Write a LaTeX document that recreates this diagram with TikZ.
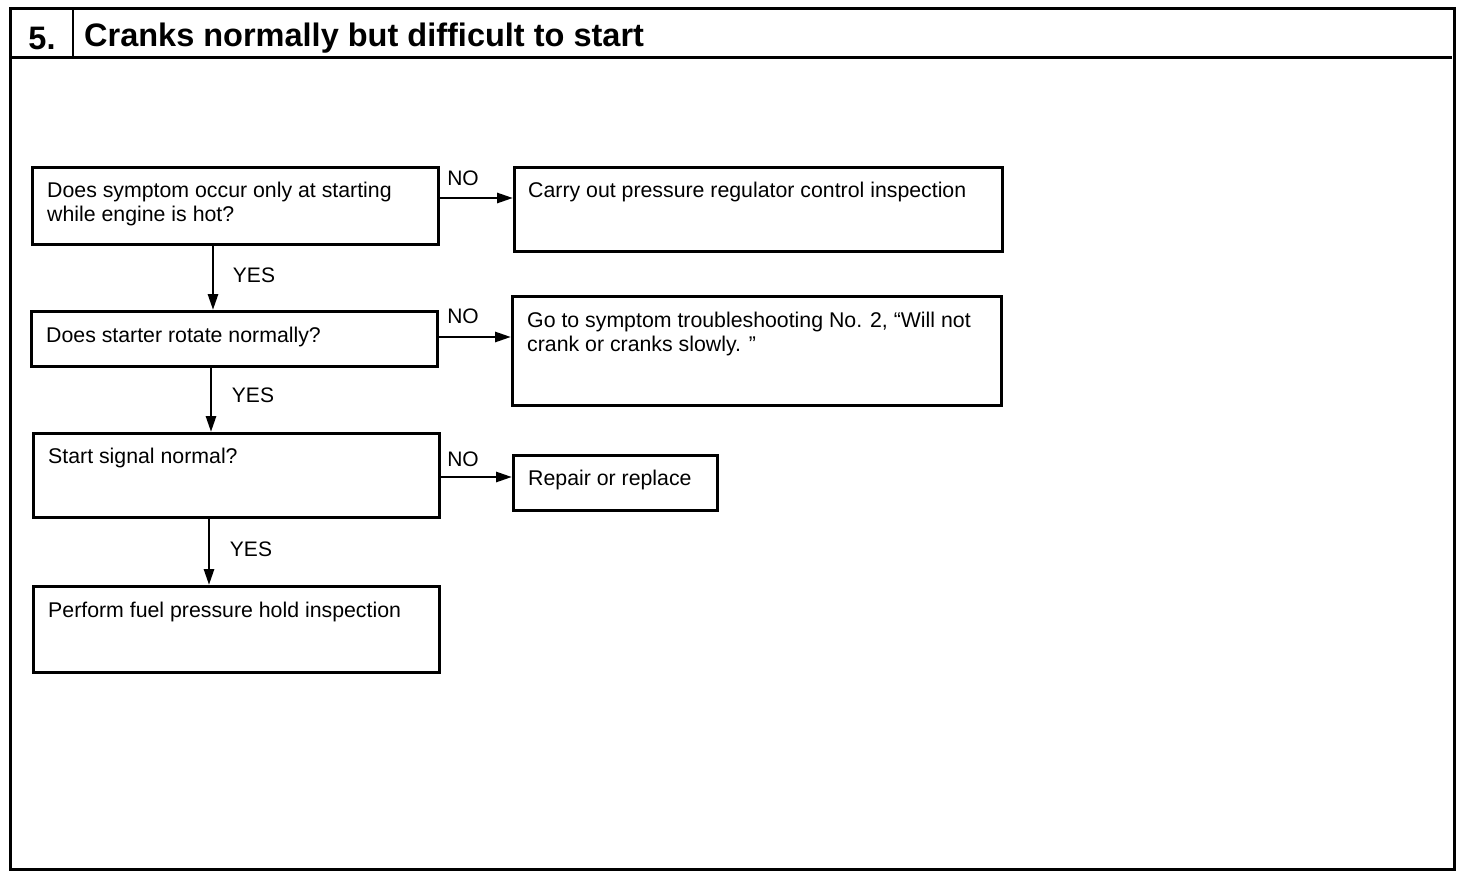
\documentclass[tikz,border=0pt]{standalone}
\usepackage{fontspec}
\setmainfont{Liberation Sans}
\usetikzlibrary{arrows.meta}
\begin{document}
\begin{tikzpicture}[x=1pt,y=-1pt,
  frame/.style={line width=3pt},
  box/.style={draw,line width=2.5pt,rectangle,inner sep=0pt,anchor=north west},
  txt/.style={font=\fontsize{21.3}{24}\selectfont,anchor=west,inner sep=0pt,align=left},
  lbl/.style={font=\fontsize{21}{24}\selectfont,inner sep=0pt},
  head/.style={font=\fontsize{32.5}{34}\selectfont\bfseries,inner sep=0pt},
  arr/.style={line width=2.8pt,-{Triangle[length=16pt,width=10pt]}}]
\useasboundingbox (0,0) rectangle (1472,878);
% frame
\node[box,draw=none,minimum width=1442pt,minimum height=859pt] (frame) at (10,8) {};
\draw[frame] (frame.north west) rectangle (frame.south east);
\coordinate (hl) at (10,57);
\coordinate (hr) at (1452,57);
\draw[frame] (hl) -- (hr);
\coordinate (st) at (73,8);
\coordinate (sb) at (73,57);
\draw[line width=2pt] (st) -- (sb);
\node[head] (num) at (42,38) {5.};
\node[head,anchor=west] (title) at (84,38) {Cranks normally but difficult to start};
% boxes
\node[box,minimum width=406pt,minimum height=77pt] (b1) at (31,166) {};
\node[txt] (t1) at (47,204) {Does symptom occur only at starting\\while engine is hot?};
\node[box,minimum width=488pt,minimum height=84pt] (b2) at (513,166) {};
\node[txt] (t2) at (528,192) {Carry out pressure regulator control inspection};
\node[box,minimum width=406pt,minimum height=55pt] (b3) at (30,310) {};
\node[txt] (t3) at (46,337) {Does starter rotate normally?};
\node[box,minimum width=489pt,minimum height=109pt] (b4) at (511,295) {};
\node[txt] (t4) at (527,334) {Go to symptom troubleshooting No. 2, ``Will not\\crank or cranks slowly. ''};
\node[box,minimum width=406pt,minimum height=84pt] (b5) at (32,432) {};
\node[txt] (t5) at (48,458) {Start signal normal?};
\node[box,minimum width=204pt,minimum height=55pt] (b6) at (512,454) {};
\node[txt] (t6) at (528,480) {Repair or replace};
\node[box,minimum width=406pt,minimum height=86pt] (b7) at (32,585) {};
\node[txt] (t7) at (48,612) {Perform fuel pressure hold inspection};
% arrows
\draw[arr] (b1.east |- 0,198) -- (b2.west |- 0,198);
\node[lbl] (n1) at (463,178) {NO};
\draw[arr] (b1.south -| 213,0) -- (b3.north -| 213,0);
\node[lbl] (y1) at (254,275) {YES};
\draw[arr] (b3.east |- 0,337) -- (b4.west |- 0,337);
\node[lbl] (n2) at (463,316) {NO};
\draw[arr] (b3.south -| 211,0) -- (b5.north -| 211,0);
\node[lbl] (y2) at (253,395) {YES};
\draw[arr] (b5.east |- 0,477) -- (b6.west |- 0,477);
\node[lbl] (n3) at (463,459) {NO};
\draw[arr] (b5.south -| 209,0) -- (b7.north -| 209,0);
\node[lbl] (y3) at (251,549) {YES};
\end{tikzpicture}
\end{document}
